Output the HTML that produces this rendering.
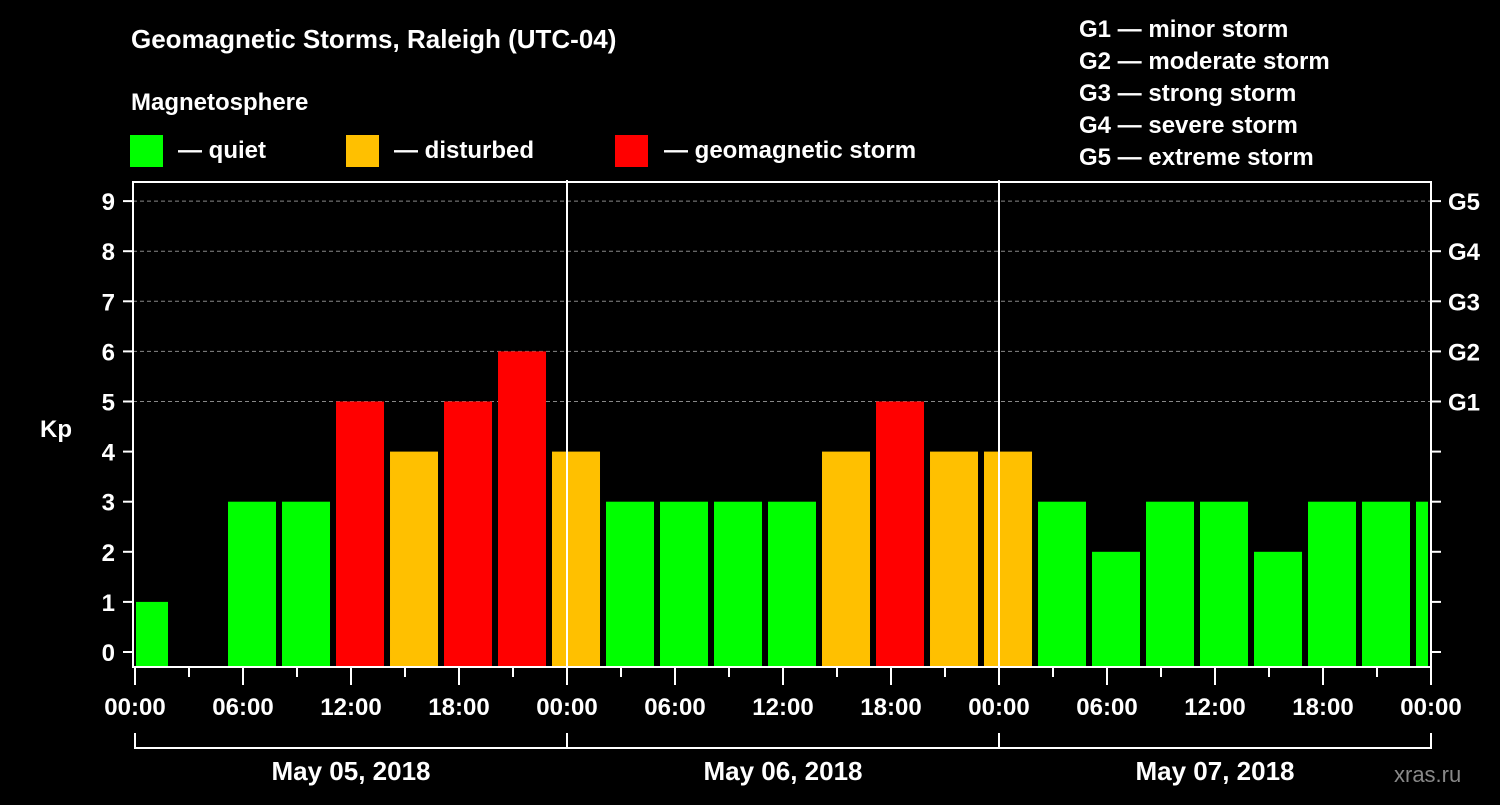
<!DOCTYPE html>
<html><head><meta charset="utf-8"><style>
body{margin:0;background:#000;width:1500px;height:800px;overflow:hidden}
svg text{font-family:"Liberation Sans",sans-serif;font-weight:bold;fill:#fff}
</style></head><body>
<svg id="c" width="1500" height="800" xmlns="http://www.w3.org/2000/svg">
<rect width="1500" height="800" fill="#000"/>
<text x="131" y="48" font-size="26">Geomagnetic Storms, Raleigh (UTC-04)</text>
<text x="131" y="110" font-size="24">Magnetosphere</text>
<rect x="130" y="135" width="33" height="32" fill="#00ff00"/>
<text x="178" y="158" font-size="24">— quiet</text>
<rect x="346" y="135" width="33" height="32" fill="#ffc000"/>
<text x="394" y="158" font-size="24">— disturbed</text>
<rect x="615" y="135" width="33" height="32" fill="#ff0000"/>
<text x="664" y="158" font-size="24">— geomagnetic storm</text>
<g font-size="24">
<text x="1079" y="37">G1 — minor storm</text>
<text x="1079" y="69">G2 — moderate storm</text>
<text x="1079" y="101">G3 — strong storm</text>
<text x="1079" y="133">G4 — severe storm</text>
<text x="1079" y="165">G5 — extreme storm</text>
</g>
<text x="40" y="437" font-size="24">Kp</text>
<text x="1394" y="782" font-size="22" fill="#888" style="fill:#888;font-weight:normal">xras.ru</text>
<g id="plot"></g>
</svg>
<script>
const kpValues=[1,0,3,3,5,4,5,6,4,3,3,3,3,4,5,4,4,3,2,3,3,2,3,3,3];
const xTickLabels=["00:00","06:00","12:00","18:00","00:00","06:00","12:00","18:00","00:00","06:00","12:00","18:00","00:00"];
const dayLabels=["May 05, 2018","May 06, 2018","May 07, 2018"];
const gLabels=["G1","G2","G3","G4","G5"];
const yTicks=[0,1,2,3,4,5,6,7,8,9];
const NS="http://www.w3.org/2000/svg";
const L=133,R=1431,T=182,B=667;
const x=h=>135+h*18;
const y=k=>652-k*50.1;
const g=document.getElementById('plot');
function mk(t,a){const e=document.createElementNS(NS,t);for(const k in a)e.setAttribute(k,a[k]);g.appendChild(e);return e;}
// grid
yTicks.forEach(k=>{
 if(k>=5){const l=mk('line',{x1:L,x2:R,y1:y(k),y2:y(k),stroke:'#888','stroke-dasharray':'4,3'});
 
 }
 const t=mk('line',{x1:L-10,x2:L,y1:y(k),y2:y(k),stroke:'#fff','stroke-width':2});
 
 
 const t2=mk('line',{x1:R,x2:R+10,y1:y(k),y2:y(k),stroke:'#fff','stroke-width':2});
 
 
 const tx=mk('text',{x:L-18,y:y(k)+9,'font-size':24,'text-anchor':'end'});tx.textContent=k;
 
 
});
gLabels.forEach((s,i)=>{const tx=mk('text',{x:1448,y:y(5+i)+9,'font-size':24});tx.textContent=s;
 
 });
// bars
kpValues.forEach((v,i)=>{
 if(v<=0)return;
 let x0=x(i*3-0.833),x1=x0+48;
 x0=Math.max(x0,L+3);x1=Math.min(x1,R-3);
 const c=v>=5?'#ff0000':v>=4?'#ffc000':'#00ff00';
 const r=mk('rect',{x:x0,y:y(v),width:x1-x0,height:B-y(v),fill:c});
 
 
});
// frame
const f=mk('rect',{x:L,y:T,width:R-L,height:B-T,fill:'none',stroke:'#fff','stroke-width':2});


[1,2].forEach(d=>{const l=mk('line',{x1:x(d*24),x2:x(d*24),y1:T-2,y2:B,stroke:'#fff','stroke-width':2});
 
 });
// x ticks
for(let h=0;h<=72;h+=3){
 const major=h%6===0;
 const t=mk('line',{x1:x(h),x2:x(h),y1:B,y2:B+(major?18:10),stroke:'#fff','stroke-width':2});
 
 
}
xTickLabels.forEach((s,i)=>{const tx=mk('text',{x:x(i*6),y:715,'font-size':24,'text-anchor':'middle'});tx.textContent=s;
 
 });
dayLabels.forEach((s,i)=>{
 const p=mk('path',{d:`M${x(i*24)} 733V748H${x(i*24+24)}V733`,fill:'none',stroke:'#fff','stroke-width':2});
 
 
 const tx=mk('text',{x:x(i*24+12),y:780,'font-size':26,'text-anchor':'middle'});tx.textContent=s;
 
 
});
</script>
</body></html>
